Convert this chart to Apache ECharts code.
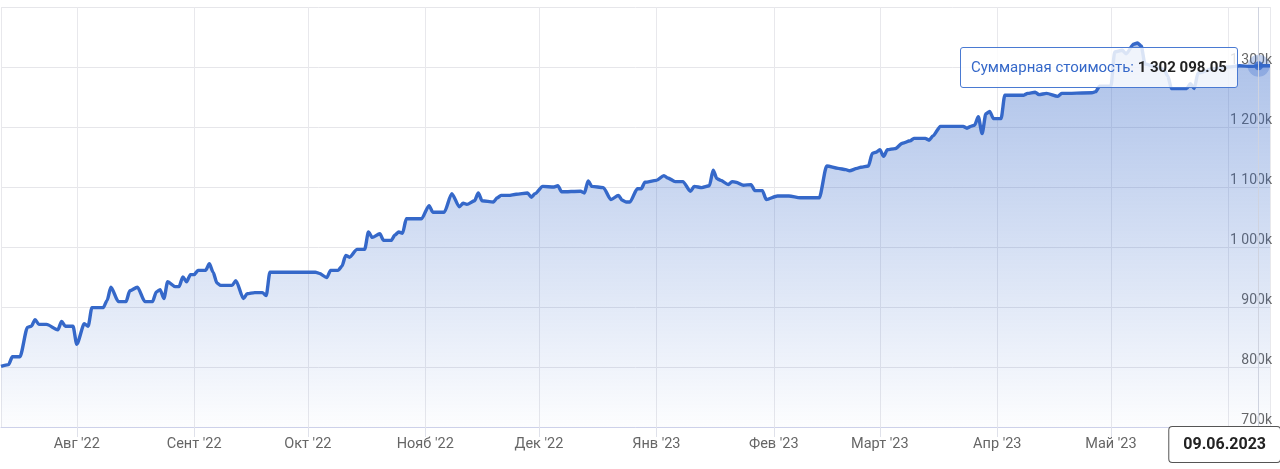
<!DOCTYPE html>
<html>
<head>
<meta charset="utf-8">
<script src="https://cdn.jsdelivr.net/npm/echarts@6/dist/echarts.min.js"></script>
<style>
  html, body { margin: 0; padding: 0; background: #fff; }
  #chart { width: 1280px; height: 469px; }
</style>
</head>
<body>
<div id="chart"></div>
<script>
// ---- data ----
const dates = [
  '2022-07-12','2022-07-14','2022-07-15','2022-07-17','2022-07-19','2022-07-20','2022-07-21','2022-07-22','2022-07-24','2022-07-27',
  '2022-07-28','2022-07-29','2022-07-31','2022-08-01','2022-08-03','2022-08-04','2022-08-05','2022-08-08','2022-08-09','2022-08-10',
  '2022-08-12','2022-08-14','2022-08-15','2022-08-17','2022-08-19','2022-08-21','2022-08-22','2022-08-23','2022-08-24','2022-08-25',
  '2022-08-27','2022-08-28','2022-08-29','2022-08-30','2022-08-31','2022-09-01','2022-09-02','2022-09-04','2022-09-05','2022-09-06',
  '2022-09-07','2022-09-08','2022-09-11','2022-09-12','2022-09-14','2022-09-15','2022-09-17','2022-09-19','2022-09-20','2022-09-21',
  '2022-10-03','2022-10-04','2022-10-06','2022-10-07','2022-10-09','2022-10-10','2022-10-11','2022-10-12','2022-10-14','2022-10-16',
  '2022-10-17','2022-10-18','2022-10-20','2022-10-21','2022-10-23','2022-10-24','2022-10-25','2022-10-26','2022-10-27','2022-10-31',
  '2022-11-02','2022-11-03','2022-11-06','2022-11-08','2022-11-10','2022-11-11','2022-11-12','2022-11-14','2022-11-15','2022-11-16',
  '2022-11-19','2022-11-20','2022-11-21','2022-11-23','2022-11-25','2022-11-28','2022-11-29','2022-11-30','2022-12-02','2022-12-05',
  '2022-12-06','2022-12-07','2022-12-12','2022-12-13','2022-12-14','2022-12-15','2022-12-18','2022-12-20','2022-12-22','2022-12-23',
  '2022-12-24','2022-12-25','2022-12-27','2022-12-28','2022-12-29','2023-01-01','2023-01-03','2023-01-04','2023-01-06','2023-01-08',
  '2023-01-10','2023-01-11','2023-01-13','2023-01-15','2023-01-16','2023-01-17','2023-01-18','2023-01-20','2023-01-21','2023-01-22',
  '2023-01-24','2023-01-26','2023-01-27','2023-01-29','2023-01-30','2023-02-02','2023-02-05','2023-02-08','2023-02-13','2023-02-15',
  '2023-02-18','2023-02-20','2023-02-21','2023-02-23','2023-02-24','2023-02-26','2023-02-27','2023-02-28','2023-03-01','2023-03-02',
  '2023-03-03','2023-03-05','2023-03-07','2023-03-09','2023-03-10','2023-03-13','2023-03-14','2023-03-15','2023-03-17','2023-03-23',
  '2023-03-24','2023-03-25','2023-03-26','2023-03-27','2023-03-28','2023-03-29','2023-03-30','2023-03-31','2023-04-02','2023-04-03',
  '2023-04-08','2023-04-09','2023-04-11','2023-04-12','2023-04-14','2023-04-17','2023-04-18','2023-04-26','2023-04-27','2023-04-28',
  '2023-05-01','2023-05-02','2023-05-04','2023-05-05','2023-05-07','2023-05-08','2023-05-09','2023-05-10','2023-05-13','2023-05-15',
  '2023-05-16','2023-05-17','2023-05-21','2023-05-22','2023-05-23','2023-05-24','2023-05-28','2023-06-01','2023-06-04','2023-06-07',
  '2023-06-09','2023-06-10','2023-06-12'
];
const totalValue = [
  801000,804000,817000,817000,866000,868000,879000,871000,871000,862000,
  876000,868000,868000,838000,872000,868000,899000,899000,911000,933000,
  909000,909000,927000,933000,909000,909000,925000,929000,914000,942000,
  934000,934000,950000,942000,954000,954000,961000,961000,972000,958000,
  940000,936000,936000,944000,914000,922000,924000,924000,919000,958000,
  958000,956000,949000,961000,961000,968000,986000,983000,996000,996000,
  1025000,1016000,1022000,1011000,1011000,1020000,1025000,1023000,1047000,1047000,
  1069000,1058000,1058000,1089000,1067000,1073000,1071000,1077000,1090000,1077000,
  1075000,1082000,1086000,1086000,1088000,1090000,1083000,1089000,1101000,1100000,
  1102000,1092000,1093000,1090000,1110000,1101000,1099000,1079000,1086000,1078000,
  1075000,1075000,1097000,1097000,1108000,1111000,1119000,1115000,1109000,1109000,
  1093000,1101000,1099000,1102000,1128000,1114000,1111000,1104000,1109000,1108000,
  1103000,1104000,1094000,1094000,1079000,1085000,1085000,1082000,1082000,1135000,
  1131000,1129000,1127000,1131000,1133000,1135000,1156000,1158000,1162000,1151000,
  1162000,1164000,1173000,1177000,1181000,1181000,1178000,1185000,1201000,1201000,
  1198000,1201000,1203000,1217000,1189000,1222000,1226000,1214000,1214000,1253000,
  1253000,1256000,1258000,1254000,1256000,1251000,1256000,1257000,1259000,1268000,
  1268000,1325000,1328000,1322000,1338000,1340000,1335000,1305000,1300000,1296000,
  1285000,1264000,1264000,1272000,1264000,1290000,1297000,1300000,1302000,1301000,
  1302098.05,1302098.05,1302098.05
];
const monthNames = ['Янв','Фев','Март','Апр','Май','Июнь','Июль','Авг','Сент','Окт','Нояб','Дек'];
const xRange = ['2022-07-12', '2023-06-12'];
const yTicks = [700000, 800000, 900000, 1000000, 1100000, 1200000, 1300000, 1400000];
const seriesName = 'Суммарная стоимость';
const selectedDate = '2023-06-09';

// ---- helpers ----
function spaced(n) {
  return String(n).replace(/\B(?=(\d{3})+(?!\d))/g, ' ');
}
function fmtMoney(v) {
  const parts = v.toFixed(2).split('.');
  return spaced(parts[0]) + '.' + parts[1];
}
function fmtDate(ts) {
  const d = new Date(ts);
  const dd = String(d.getDate()).padStart(2, '0');
  const mm = String(d.getMonth() + 1).padStart(2, '0');
  return dd + '.' + mm + '.' + d.getFullYear();
}
function toTs(s) {
  const p = s.split('-').map(Number);
  return new Date(p[0], p[1] - 1, p[2]).getTime();
}

const lineData = dates.map((d, i) => [toTs(d), totalValue[i]]);
const selIdx = dates.indexOf(selectedDate);
const selPoint = [lineData[selIdx]];

const FONT = 'Roboto, "Noto Sans", sans-serif';
const BLUE = '#3568c9';
const DAY = 86400000;

const chart = echarts.init(document.getElementById('chart'), null, { renderer: 'canvas' });
chart.setOption({
  animation: false,
  grid: { left: 1, right: 10, top: 7, bottom: 42, containLabel: false },
  xAxis: {
    type: 'time',
    min: toTs(xRange[0]),
    max: toTs(xRange[1]),
    minInterval: 28 * DAY,
    maxInterval: 31 * DAY,
    splitNumber: 12,
    axisLine: { show: true, lineStyle: { color: '#cdd1ea', width: 1 } },
    axisTick: { show: true, length: 10, lineStyle: { color: '#dfe1ea' } },
    splitLine: { show: true, lineStyle: { color: '#e8e8ec', width: 1 } },
    axisLabel: {
      color: '#666',
      fontFamily: FONT,
      fontSize: 14.5,
      margin: 10,
      hideOverlap: false,
      formatter: function (value) {
        const d = new Date(value);
        return monthNames[d.getMonth()] + " '" + String(d.getFullYear()).slice(2);
      }
    },
    axisPointer: {
      show: true,
      type: 'line',
      lineStyle: { color: '#cfd3df', width: 1, type: 'solid' },
      label: {
        show: true,
        margin: 0,
        formatter: function (p) { return fmtDate(p.value); },
        backgroundColor: '#fff',
        borderColor: '#555',
        borderWidth: 1,
        borderRadius: 3,
        padding: [10, 14, 9, 14],
        color: '#222',
        fontFamily: FONT,
        fontSize: 16,
        fontWeight: 'bold',
        shadowBlur: 0
      }
    }
  },
  yAxis: {
    type: 'value',
    position: 'right',
    min: yTicks[0],
    max: yTicks[yTicks.length - 1],
    interval: yTicks[1] - yTicks[0],
    axisLine: { show: false },
    axisTick: { show: false },
    splitLine: { show: true, lineStyle: { color: '#e6e6ea', width: 1 } },
    axisPointer: { show: false },
    axisLabel: {
      inside: true,
      margin: -2,
      color: '#666',
      fontFamily: FONT,
      fontSize: 14,
      verticalAlign: 'bottom',
      showMaxLabel: false,
      formatter: function (v) { return spaced(v / 1000) + 'k'; }
    }
  },
  tooltip: {
    show: true,
    trigger: 'axis',
    triggerOn: 'none',
    alwaysShowContent: true,
    transitionDuration: 0,
    position: function () { return [960, 47]; },
    backgroundColor: 'rgba(255,255,255,0.82)',
    borderColor: '#4a7ad2',
    borderWidth: 1,
    borderRadius: 3,
    padding: [8, 10],
    extraCssText: 'box-shadow:none;',
    textStyle: { fontFamily: FONT, fontSize: 15, color: '#3568c9' },
    formatter: function (params) {
      const p = params.find(q => q.seriesIndex === 0) || params[0];
      return '<span style="color:#3568c9">' + seriesName + ': </span>' +
             '<span style="color:#222;font-weight:bold">' + fmtMoney(p.value[1]) + '</span>';
    }
  },
  series: [
    {
      name: seriesName,
      type: 'line',
      data: lineData,
      showSymbol: false,
      symbol: 'none',
      smooth: 0.25,
      smoothMonotone: 'x',
      lineStyle: { color: BLUE, width: 3.4 },
      itemStyle: { color: BLUE },
      emphasis: { disabled: true },
      areaStyle: {
        color: new echarts.graphic.LinearGradient(0, 0, 0, 1, [
          { offset: 0, color: 'rgba(53,104,201,0.6)' },
          { offset: 1, color: 'rgba(53,104,201,0.02)' }
        ])
      }
    },
    {
      name: 'halo',
      type: 'scatter',
      data: selPoint,
      symbolSize: 22,
      itemStyle: { color: 'rgba(53,104,201,0.35)' },
      silent: true,
      tooltip: { show: false },
      z: 5
    },
    {
      name: 'dot',
      type: 'scatter',
      data: selPoint,
      symbolSize: 9,
      itemStyle: { color: BLUE },
      silent: true,
      tooltip: { show: false },
      z: 6
    }
  ]
});
chart.dispatchAction({ type: 'showTip', seriesIndex: 0, dataIndex: selIdx });
</script>
</body>
</html>
